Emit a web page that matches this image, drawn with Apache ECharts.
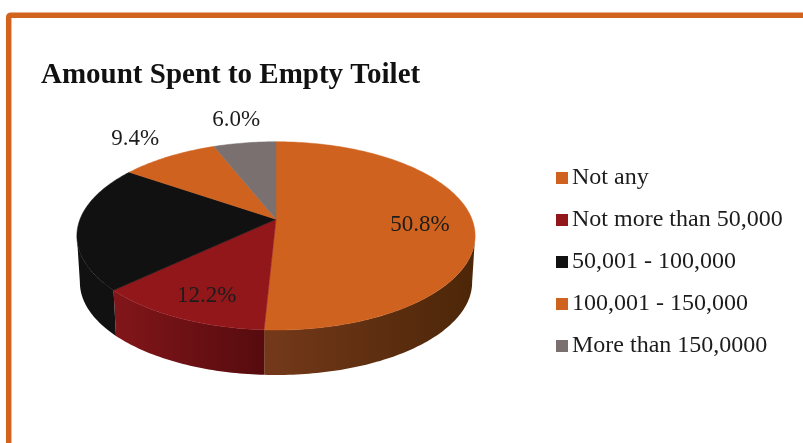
<!DOCTYPE html>
<html>
<head>
<meta charset="utf-8">
<style>
  html, body { margin: 0; padding: 0; background: #ffffff; overflow: hidden; }
  #main { width: 803px; height: 443px; }
</style>
<script src="https://cdn.jsdelivr.net/npm/echarts@6/dist/echarts.min.js"></script>
</head>
<body>
<div id="main"></div>
<script>
  var categories = ['Not any', 'Not more than 50,000', '50,001 - 100,000', '100,001 - 150,000', 'More than 150,0000'];
  var shares = [50.8, 12.2, 21.6, 9.4, 6.0];
  var shownLabels = ['50.8%', '12.2%', '', '9.4%', '6.0%'];
  var colors = ['#cf621f', '#92171a', '#111111', '#cf621f', '#7a7070'];
  var wallLeft = ['#74391a', '#82161a', '#111111', '#74391a', '#7a7070'];
  var wallRight = ['#4c2608', '#560b0e', '#111111', '#4c2608', '#7a7070'];
  var labelRadius = [0.73, 0.78, 0.7, 1.37, 1.40];
  var labelTurn = [2.5, -1.5, 0, 0, 0.4];

  // tilted disc, near side drawn bigger than far side
  var cx = 276, cy = 219.3, a = 196, b = 91.2, persp = 0.176;
  var depth = 46.7, bottomScale = 0.985;

  function project(deg, r, lower) {
    var t = deg * Math.PI / 180;
    var X = r * Math.sin(t), Y = -r * Math.cos(t);
    var w = 1 - persp * Y;
    var s = lower ? bottomScale : 1;
    return [cx + s * a * X / w, cy + (lower ? depth : 0) + s * b * Y / w];
  }

  function arc(from, to, lower) {
    var pts = [], n = Math.max(2, Math.ceil(Math.abs(to - from)));
    for (var i = 0; i <= n; i++) {
      pts.push(project(from + (to - from) * i / n, 1, lower));
    }
    return pts;
  }

  // wall only shows between the two widest points of the disc
  var wallFrom = 100.1, wallTo = 259.9;

  function renderSlice(idx) {
    return function (params, api) {
      var start = api.value(0) * 3.6, end = api.value(1) * 3.6;
      var children = [];
      var wa = Math.max(start, wallFrom), wb = Math.min(end, wallTo);
      if (wb > wa) {
        children.push({
          type: 'polygon',
          shape: { points: arc(wa, wb, false).concat(arc(wb, wa, true)) },
          style: {
            fill: new echarts.graphic.LinearGradient(0, 0, 1, 0, [
              { offset: 0, color: wallLeft[idx] },
              { offset: 1, color: wallRight[idx] }
            ]),
            stroke: null
          }
        });
      }
      children.push({
        type: 'polygon',
        shape: { points: [[cx, cy]].concat(arc(start, end, false)) },
        style: { fill: colors[idx], stroke: colors[idx], lineWidth: 0.5 }
      });
      if (shownLabels[idx]) {
        var pos = project((start + end) / 2 + labelTurn[idx], labelRadius[idx], false);
        children.push({
          type: 'text',
          style: {
            x: pos[0], y: pos[1] + 1.5, text: shownLabels[idx],
            fill: '#1c1c1c', font: '23px "Liberation Serif"',
            align: 'center', verticalAlign: 'middle'
          }
        });
      }
      return { type: 'group', children: children };
    };
  }

  var series = [];
  var running = 0;
  categories.forEach(function (name, i) {
    series.push({
      name: name,
      type: 'custom',
      coordinateSystem: 'none',
      renderItem: renderSlice(i),
      itemStyle: { color: colors[i] },
      data: [[running, running + shares[i]]],
      silent: true
    });
    running += shares[i];
  });

  var myChart = echarts.init(document.getElementById('main'));
  var option = {
    animation: false,
    backgroundColor: '#ffffff',
    title: {
      text: 'Amount Spent to Empty Toilet',
      left: 41,
      top: 61,
      padding: 0,
      textStyle: { fontFamily: 'Liberation Serif', fontSize: 29, fontWeight: 'bold', color: '#111111' }
    },
    legend: {
      orient: 'vertical',
      left: 556,
      top: 166,
      padding: 0,
      itemWidth: 12,
      itemHeight: 12,
      itemGap: 18,
      icon: 'rect',
      selectedMode: false,
      data: categories,
      textStyle: { fontFamily: 'Liberation Serif', fontSize: 24, lineHeight: 22, color: '#1c1c1c', padding: [0, 0, 0, -1] }
    },
    graphic: [{
      type: 'rect',
      silent: true,
      shape: { x: 8.7, y: 15.2, width: 900, height: 600, r: 2 },
      style: { fill: null, stroke: '#d2631f', lineWidth: 5.5 }
    }],
    series: series
  };
  myChart.setOption(option);
</script>
</body>
</html>
